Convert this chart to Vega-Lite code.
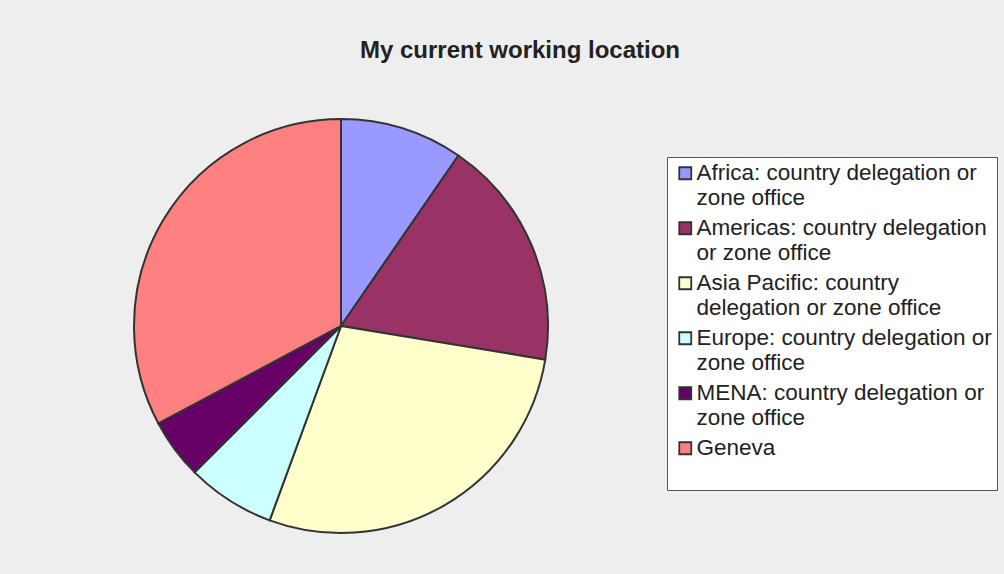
{
  "$schema": "https://vega.github.io/schema/vega-lite/v6.json",
  "autosize": "none",
  "width": 414,
  "height": 414,
  "padding": {"left": 134, "top": 119, "right": 456, "bottom": 41},
  "background": "#eeeeee",
  "title": {
    "text": "My current working location",
    "font": "Liberation Sans",
    "fontSize": 24,
    "fontWeight": "bold",
    "color": "#222222",
    "anchor": "middle",
    "frame": "group",
    "baseline": "alphabetic",
    "dx": 179,
    "offset": 33
  },
  "data": {
    "values": [
      {"location": "Africa: country delegation or zone office", "share": 9.6, "idx": 1},
      {"location": "Americas: country delegation or zone office", "share": 18.0, "idx": 2},
      {"location": "Asia Pacific: country delegation or zone office", "share": 28.0, "idx": 3},
      {"location": "Europe: country delegation or zone office", "share": 6.9, "idx": 4},
      {"location": "MENA: country delegation or zone office", "share": 4.7, "idx": 5},
      {"location": "Geneva", "share": 32.8, "idx": 6}
    ]
  },
  "mark": {"type": "arc", "stroke": "#333333", "strokeWidth": 2},
  "encoding": {
    "theta": {"field": "share", "type": "quantitative", "stack": true},
    "order": {"field": "idx", "type": "quantitative"},
    "color": {
      "field": "location",
      "type": "nominal",
      "scale": {
        "domain": [
          "Africa: country delegation or zone office",
          "Americas: country delegation or zone office",
          "Asia Pacific: country delegation or zone office",
          "Europe: country delegation or zone office",
          "MENA: country delegation or zone office",
          "Geneva"
        ],
        "range": ["#9999ff", "#993366", "#ffffcc", "#ccffff", "#660066", "#ff8080"]
      },
      "legend": {
        "title": null,
        "orient": "none",
        "legendX": 533,
        "legendY": 38,
        "direction": "vertical",
        "columns": 1,
        "fillColor": "#ffffff",
        "strokeColor": "#555555",
        "padding": 5,
        "symbolOffset": 2,
        "symbolType": "square",
        "symbolSize": 144,
        "symbolStrokeColor": "#333333",
        "symbolStrokeWidth": 1.8,
        "symbolOpacity": 1,
        "labelFont": "Liberation Sans",
        "labelFontSize": 22.5,
        "labelColor": "#222222",
        "labelOffset": 0,
        "labelLimit": 400,
        "rowPadding": 7,
        "labelExpr": "{'Africa: country delegation or zone office': ['Africa: country delegation or', 'zone office'], 'Americas: country delegation or zone office': ['Americas: country delegation', 'or zone office'], 'Asia Pacific: country delegation or zone office': ['Asia Pacific: country', 'delegation or zone office'], 'Europe: country delegation or zone office': ['Europe: country delegation or', 'zone office'], 'MENA: country delegation or zone office': ['MENA: country delegation or', 'zone office'], 'Geneva': ['Geneva', ' ']}[datum.label]",
        "encode": {"labels": {"update": {"lineHeight": {"value": 25}}}}
      }
    }
  },
  "config": {"view": {"stroke": null}}
}
